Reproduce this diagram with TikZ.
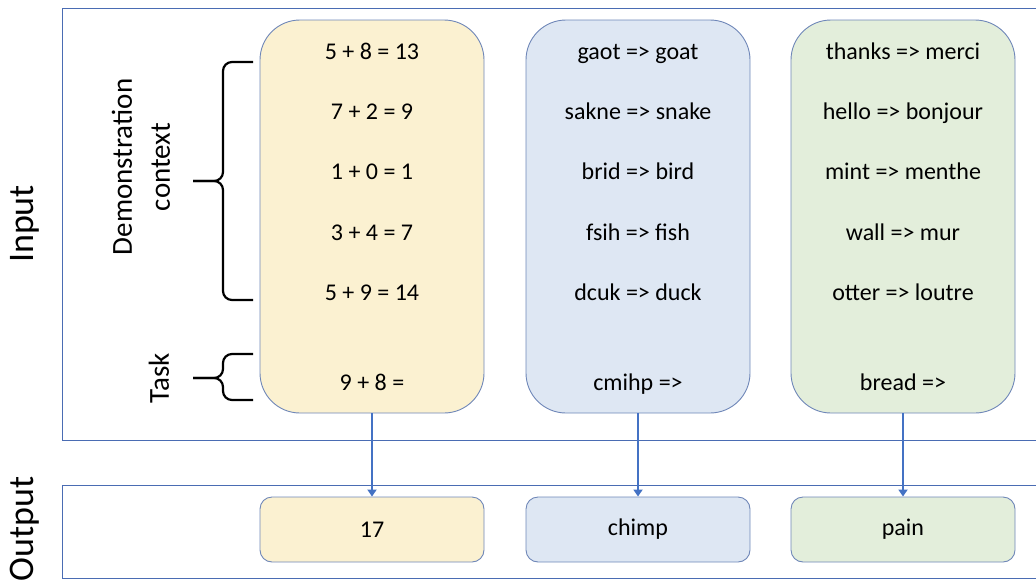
\documentclass[tikz,border=0pt]{standalone}
\usepackage{fontspec}
\setmainfont{Carlito}
\usetikzlibrary{positioning,arrows.meta}
\definecolor{frameblue}{HTML}{4A6CB3}
\definecolor{edgeblue}{HTML}{6F87B8}
\definecolor{arrowblue}{HTML}{4472C4}
\definecolor{fillyellow}{HTML}{FBF1D1}
\definecolor{fillblue}{HTML}{DEE7F3}
\definecolor{fillgreen}{HTML}{E3EEDB}

\begin{document}
\begin{tikzpicture}[x=1pt,y=-1pt,
  frame/.style={draw=frameblue, line width=1pt},
  column/.style={draw=edgeblue, line width=0.9pt, rounded corners=40pt, minimum width=224pt, minimum height=393pt},
  answer/.style={draw=edgeblue, line width=0.9pt, rounded corners=12pt, minimum width=224pt, minimum height=65pt, font=\fontsize{24}{28}\selectfont},
  item/.style={font=\fontsize{24}{28}\selectfont, inner sep=0pt, text height=18pt, text depth=3pt},
  side/.style={rotate=90, align=center, font=\fontsize{29}{38}\selectfont},
  flow/.style={draw=arrowblue, line width=2.4pt, -{Triangle[width=9pt,length=7pt]}},
  curly/.style={draw, line width=2.2pt, rounded corners=9pt}]
  \useasboundingbox (0,0) rectangle (1036,584);

  \draw[frame] (62,8) rectangle (1045,440);
  \draw[frame] (62,485) rectangle (1045,578);

  \node[rotate=90, font=\fontsize{36}{40}\selectfont] (input)  at (25,224) {Input};
  \node[rotate=90, font=\fontsize{36}{40}\selectfont] (output) at (25,529) {Output};
  \node[side] (demo) at (141,167) {Demonstration\\context};
  \node[side] (task) at (159,378) {Task};

  % braces
  \draw[curly] (253,62) -- (223,62) -- (223,181) -- (193,181);
  \draw[curly] (193,181) -- (223,181) -- (223,300) -- (253,300);
  \draw[curly] (253,354) -- (223,354) -- (223,378) -- (193,378);
  \draw[curly] (193,378) -- (223,378) -- (223,400) -- (253,400);

  \node[column, fill=fillyellow] (sum)    at (372,216.5) {};
  \node[column, fill=fillblue]   (spell)  at (638,216.5) {};
  \node[column, fill=fillgreen]  (french) at (903,216.5) {};

  \node[item] (sum 1) at (372,52)  {5 + 8 = 13};
  \node[item] (sum 2) at (372,112) {7 + 2 = 9};
  \node[item] (sum 3) at (372,172) {1 + 0 = 1};
  \node[item] (sum 4) at (372,233) {3 + 4 = 7};
  \node[item] (sum 5) at (372,293) {5 + 9 = 14};
  \node[item] (sum q) at (372,383) {9 + 8 =};

  \node[item] (spell 1) at (638,52)  {gaot => goat};
  \node[item] (spell 2) at (638,112) {sakne => snake};
  \node[item] (spell 3) at (638,172) {brid => bird};
  \node[item] (spell 4) at (638,233) {fsih => fish};
  \node[item] (spell 5) at (638,293) {dcuk => duck};
  \node[item] (spell q) at (638,383) {cmihp =>};

  \node[item] (french 1) at (903,52)  {thanks => merci};
  \node[item] (french 2) at (903,112) {hello => bonjour};
  \node[item] (french 3) at (903,172) {mint => menthe};
  \node[item] (french 4) at (903,233) {wall => mur};
  \node[item] (french 5) at (903,293) {otter => loutre};
  \node[item] (french q) at (903,383) {bread =>};

  \node[answer, fill=fillyellow] (sum out)    at (372,529.5) {17};
  \node[answer, fill=fillblue]   (spell out)  at (638,529.5) {chimp};
  \node[answer, fill=fillgreen]  (french out) at (903,529.5) {pain};

  \draw[flow] (sum)    -- (sum out);
  \draw[flow] (spell)  -- (spell out);
  \draw[flow] (french) -- (french out);
\end{tikzpicture}
\end{document}
